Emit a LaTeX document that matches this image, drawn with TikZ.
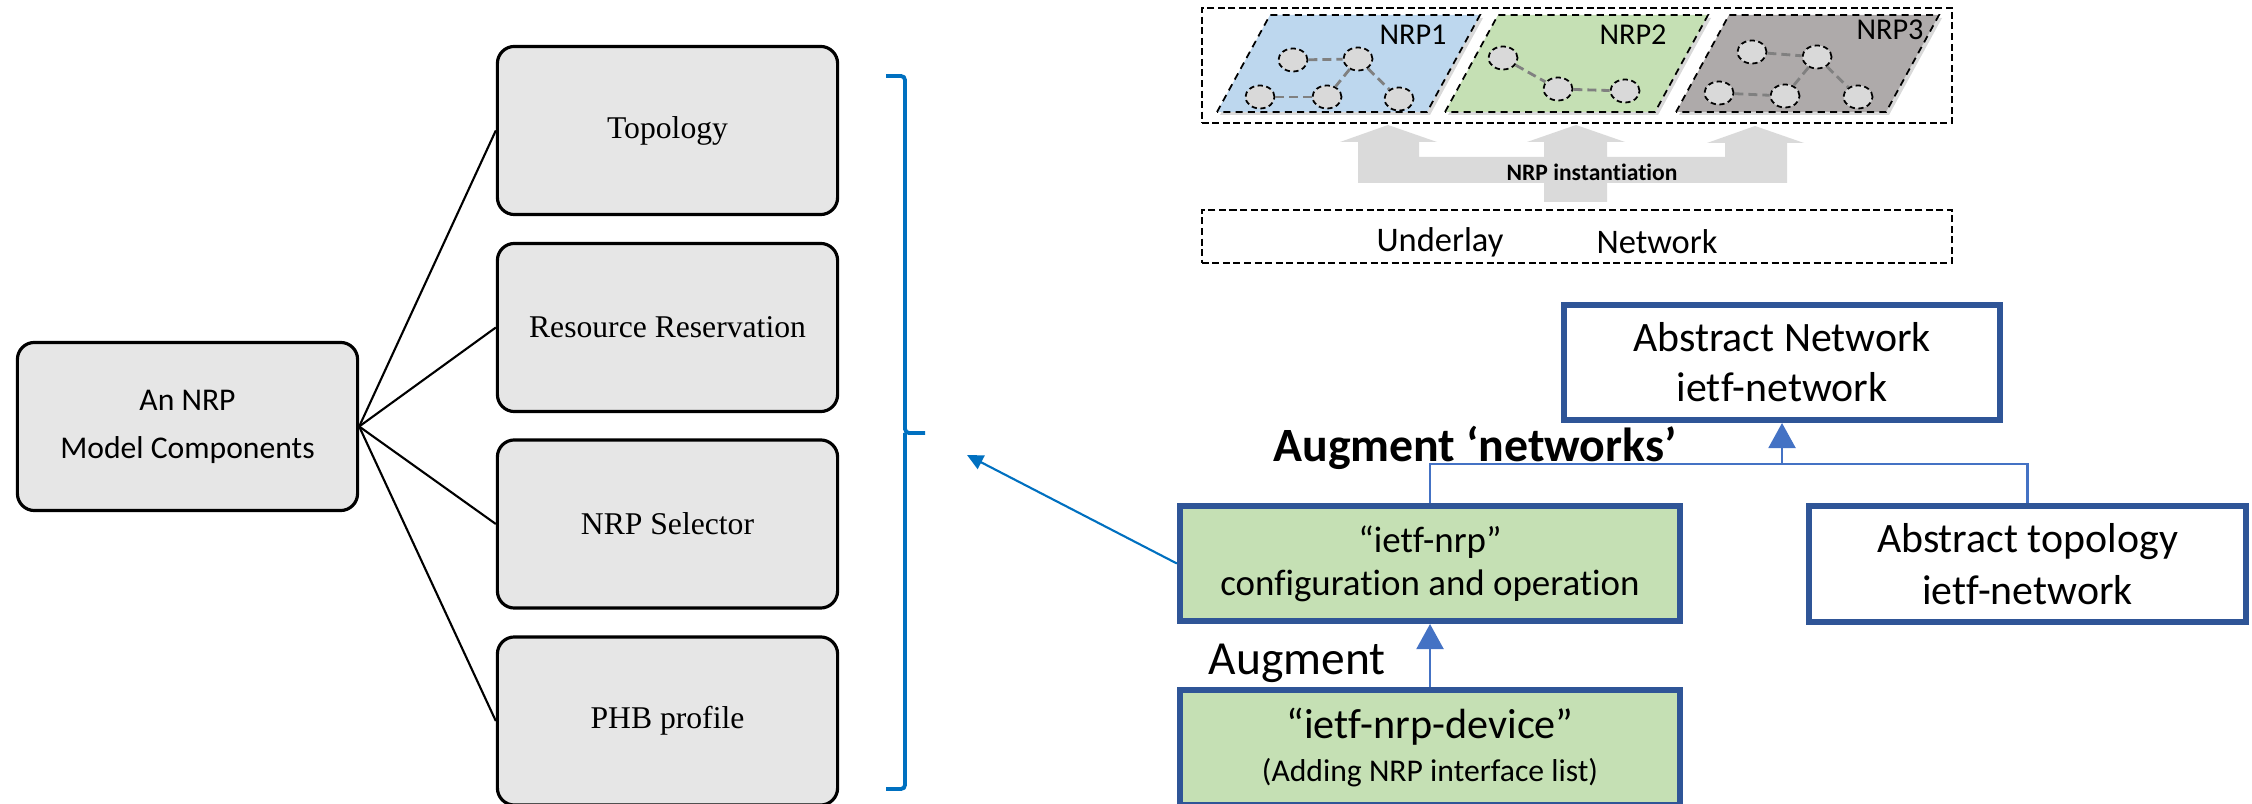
\documentclass[tikz,border=0pt]{standalone}
\usepackage{fontspec}
\newfontfamily\calibri[Ligatures=NoCommon]{Carlito}
\newfontfamily\timesr{Liberation Serif}
\usepackage{tikz}
\usetikzlibrary{arrows.meta, positioning, shapes.geometric, shadows, calc}
\definecolor{boxGray}{RGB}{230,230,230}
\definecolor{braceBlue}{RGB}{0,112,192}
\definecolor{borderBlue}{RGB}{47,85,151}
\definecolor{linkBlue}{RGB}{68,114,196}
\definecolor{nrpGreen}{RGB}{197,224,180}
\definecolor{nrpBlue}{RGB}{189,215,238}
\definecolor{nrpGray}{RGB}{174,170,170}
\definecolor{nodeGray}{RGB}{217,217,217}
\definecolor{instGray}{RGB}{218,218,218}
\tikzset{
  compbox/.style={draw, line width=0.9pt, rounded corners=0.17cm, fill=boxGray,
    minimum width=3.40cm, minimum height=1.68cm, inner sep=0pt, align=center},
  modelbox/.style={draw=borderBlue, line width=1.7pt, inner sep=0pt, align=center,
    font=\calibri},
  dashbox/.style={draw, line width=0.6pt, dash pattern=on 2pt off 1pt, inner sep=0pt},
  vnode/.style={ellipse, draw, line width=0.5pt, dash pattern=on 1.5pt off 1pt,
    fill=nodeGray, minimum width=0.29cm, minimum height=0.23cm, inner sep=0pt},
  vlink/.style={draw=gray, line width=0.8pt, dash pattern=on 0.09cm off 0.05cm},
  link/.style={draw=linkBlue, line width=0.6pt},
  uptip/.style={-{Triangle[length=0.25cm, width=0.27cm]}}
}
\begin{document}
\begin{tikzpicture}[x=0.01cm, y=-0.01cm]
  \useasboundingbox (0,0) rectangle (2252,804);

  % Model components
  \node[compbox, font=\calibri\fontsize{9}{13.7}\selectfont] (comp) at (187.5,426.5)
    {An NRP\\Model Components};
  \foreach \b/\y/\t in {topo/130.5/Topology, resv/327.5/Resource Reservation,
                        sel/524/NRP Selector, phb/721/PHB profile}{
    \node[compbox, font=\timesr\fontsize{9}{11}\selectfont] (\b) at (667.5,\y) {\t};
    \draw[line width=0.6pt] (comp.east) -- (\b.west);
  }

  % Bracket
  \draw[braceBlue, line width=1.1pt, rounded corners=0.04cm]
    (886,76) -| (905,433) -- (925,433);
  \draw[braceBlue, line width=1.1pt, rounded corners=0.04cm]
    (905,433) |- (886,789);
  \coordinate (braceTip) at (967,455);

  % YANG modules
  \node[modelbox, minimum width=4.36cm, minimum height=1.15cm,
        font=\calibri\fontsize{11.9}{14.2}\selectfont] (absnet) at (1782,362.5)
    {Abstract Network\\ietf-network};
  \node[modelbox, fill=nrpGreen, minimum width=5.00cm, minimum height=1.15cm,
        font=\calibri\fontsize{10.5}{12.2}\selectfont] (nrp) at (1430,563.5)
    {“ietf-nrp”\\configuration and operation};
  \node[modelbox, minimum width=4.37cm, minimum height=1.16cm,
        font=\calibri\fontsize{11.9}{14.6}\selectfont] (abstopo) at (2027.5,564)
    {Abstract topology\\ietf-network};
  \node[modelbox, fill=nrpGreen, minimum width=5.00cm, minimum height=1.15cm,
        font=\calibri\fontsize{12}{12}\selectfont] (dev) at (1430,747.5)
    {“ietf-nrp-device”\\{\fontsize{9}{12}\selectfont (Adding NRP interface list)}};

  \coordinate (join) at (1782,464);
  \draw[link] (nrp.north) |- (join) -| (abstopo.north);
  \draw[link, uptip] (join) -- (absnet.south);
  \draw[link, uptip] (dev.north) -- (nrp.south);
  \draw[braceBlue, line width=0.6pt, -{Triangle[length=0.16cm, width=0.15cm]}]
    (nrp.west) -- (braceTip);

  \node[font=\calibri\bfseries\fontsize{13.6}{16}\selectfont] (augNet) at (1475,448)
    {Augment ‘networks’};
  \node[font=\calibri\fontsize{13.5}{16}\selectfont] (aug) at (1297,663) {Augment};

  % NRP slices
  \node[dashbox, minimum width=7.5cm, minimum height=1.15cm] (slices) at (1577,65.5) {};
  \foreach \bx/\col/\lab/\lx/\ly in {1217/nrpBlue/NRP1/1413/35,
                                     1445/nrpGreen/NRP2/1633/35,
                                     1676/nrpGray/NRP3/1890/30}{
    \path[fill=\col, draw, line width=0.5pt, dash pattern=on 2pt off 1.5pt,
          drop shadow={shadow xshift=0.03cm, shadow yshift=-0.03cm, opacity=0.3}]
      (\bx,112) -- ++(53,-97) -- ++(210,0) -- ++(-53,97) -- cycle;
    \node[font=\calibri\fontsize{8.6}{10}\selectfont] (lbl\lab) at (\lx,\ly) {\lab};
  }
  \foreach \n/\x/\y in {a1/1293/60, a2/1358/59, a3/1260/97, a4/1327/97, a5/1399/99,
                        b1/1503/58, b2/1558/89, b3/1625/91,
                        c1/1752/52, c2/1817/57, c3/1719/93, c4/1785/96, c5/1858/97}{
    \node[vnode] (\n) at (\x,\y) {};
  }
  \foreach \u/\v in {a1/a2, a2/a4, a2/a5, a3/a4, b1/b2, b2/b3,
                     c1/c2, c2/c4, c2/c5, c3/c4}{
    \draw[vlink] (\u) -- (\v);
  }

  % Instantiation arrows
  \fill[instGray] (1358,183) -- (1358,142) -- (1340,142) -- (1388,125) -- (1437,142)
    -- (1419,142) -- (1419,157) -- (1544,157) -- (1544,142) -- (1527,142)
    -- (1576,125) -- (1625,142) -- (1607,142) -- (1607,157) -- (1725,157)
    -- (1725,143) -- (1707,143) -- (1755,126) -- (1804,143) -- (1787,143)
    -- (1787,183) -- (1607,183) -- (1607,202) -- (1544,202) -- (1544,183) -- cycle;
  \node[font=\calibri\bfseries\fontsize{6.7}{8}\selectfont] (instLbl) at (1592,172)
    {NRP instantiation};

  % Underlay
  \node[dashbox, minimum width=7.5cm, minimum height=0.53cm] (underlay) at (1577,236.5) {};
  \node[font=\calibri\fontsize{9.8}{12}\selectfont] (ulText) at (1440,242) {Underlay};
  \node[font=\calibri\fontsize{9.8}{12}\selectfont] (nwText) at (1657,242) {Network};
\end{tikzpicture}
\end{document}
